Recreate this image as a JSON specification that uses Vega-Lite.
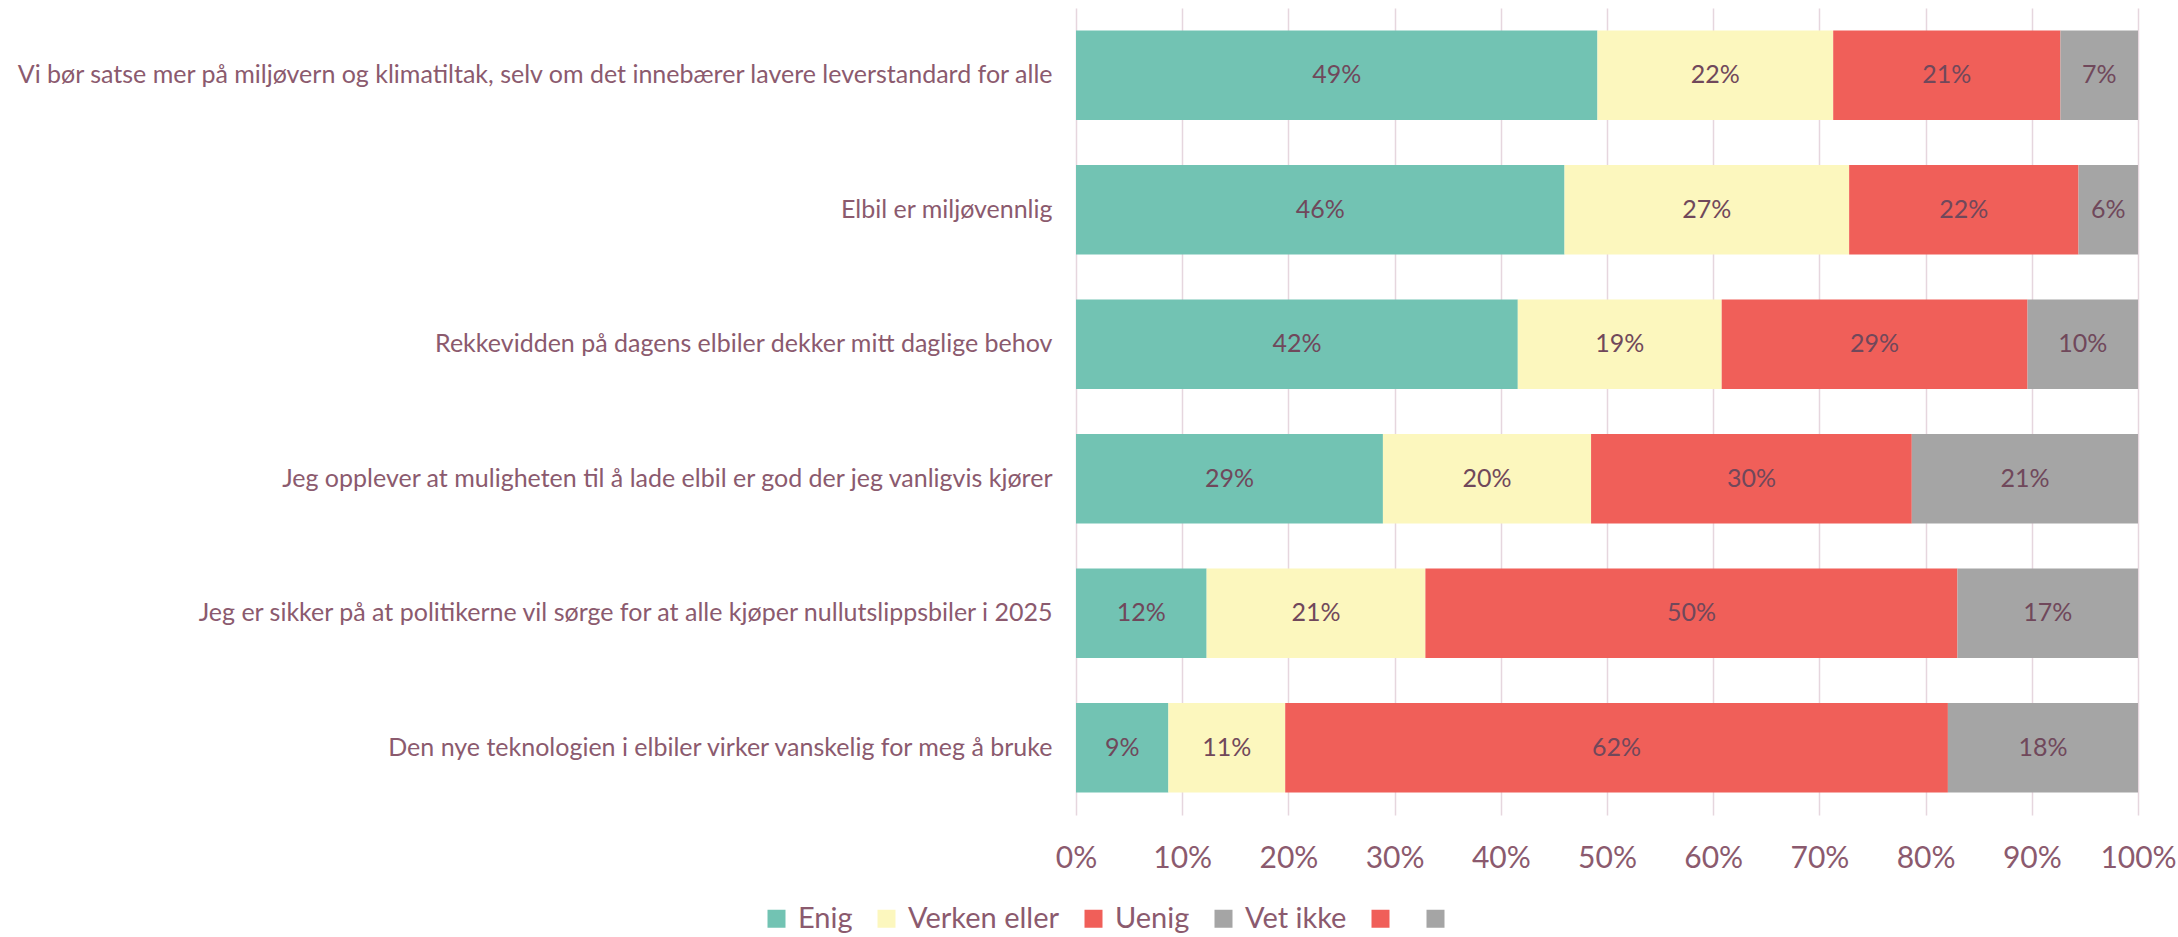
{
  "$schema": "https://vega.github.io/schema/vega-lite/v6.json",
  "width": 1062,
  "height": 807,
  "autosize": {"type": "none"},
  "padding": {"left": 1076, "top": 8, "right": 40, "bottom": 122},
  "background": "white",
  "config": {"view": {"stroke": null}, "font": "Lato"},
  "data": {
    "values": [
      {"q": "Vi bør satse mer på miljøvern og klimatiltak, selv om det innebærer lavere leverstandard for alle", "c": "Enig", "k": 1, "v": 0.491},
      {"q": "Vi bør satse mer på miljøvern og klimatiltak, selv om det innebærer lavere leverstandard for alle", "c": "Verken eller", "k": 2, "v": 0.222},
      {"q": "Vi bør satse mer på miljøvern og klimatiltak, selv om det innebærer lavere leverstandard for alle", "c": "Uenig", "k": 3, "v": 0.214},
      {"q": "Vi bør satse mer på miljøvern og klimatiltak, selv om det innebærer lavere leverstandard for alle", "c": "Vet ikke", "k": 4, "v": 0.073},
      {"q": "Elbil er miljøvennlig", "c": "Enig", "k": 1, "v": 0.460},
      {"q": "Elbil er miljøvennlig", "c": "Verken eller", "k": 2, "v": 0.268},
      {"q": "Elbil er miljøvennlig", "c": "Uenig", "k": 3, "v": 0.216},
      {"q": "Elbil er miljøvennlig", "c": "Vet ikke", "k": 4, "v": 0.056},
      {"q": "Rekkevidden på dagens elbiler dekker mitt daglige behov", "c": "Enig", "k": 1, "v": 0.416},
      {"q": "Rekkevidden på dagens elbiler dekker mitt daglige behov", "c": "Verken eller", "k": 2, "v": 0.192},
      {"q": "Rekkevidden på dagens elbiler dekker mitt daglige behov", "c": "Uenig", "k": 3, "v": 0.288},
      {"q": "Rekkevidden på dagens elbiler dekker mitt daglige behov", "c": "Vet ikke", "k": 4, "v": 0.104},
      {"q": "Jeg opplever at muligheten til å lade elbil er god der jeg vanligvis kjører\u00a0", "c": "Enig", "k": 1, "v": 0.289},
      {"q": "Jeg opplever at muligheten til å lade elbil er god der jeg vanligvis kjører\u00a0", "c": "Verken eller", "k": 2, "v": 0.196},
      {"q": "Jeg opplever at muligheten til å lade elbil er god der jeg vanligvis kjører\u00a0", "c": "Uenig", "k": 3, "v": 0.302},
      {"q": "Jeg opplever at muligheten til å lade elbil er god der jeg vanligvis kjører\u00a0", "c": "Vet ikke", "k": 4, "v": 0.213},
      {"q": "Jeg er sikker på at politikerne vil sørge for at alle kjøper nullutslippsbiler i 2025", "c": "Enig", "k": 1, "v": 0.123},
      {"q": "Jeg er sikker på at politikerne vil sørge for at alle kjøper nullutslippsbiler i 2025", "c": "Verken eller", "k": 2, "v": 0.206},
      {"q": "Jeg er sikker på at politikerne vil sørge for at alle kjøper nullutslippsbiler i 2025", "c": "Uenig", "k": 3, "v": 0.501},
      {"q": "Jeg er sikker på at politikerne vil sørge for at alle kjøper nullutslippsbiler i 2025", "c": "Vet ikke", "k": 4, "v": 0.170},
      {"q": "Den nye teknologien i elbiler virker vanskelig for meg å bruke", "c": "Enig", "k": 1, "v": 0.087},
      {"q": "Den nye teknologien i elbiler virker vanskelig for meg å bruke", "c": "Verken eller", "k": 2, "v": 0.110},
      {"q": "Den nye teknologien i elbiler virker vanskelig for meg å bruke", "c": "Uenig", "k": 3, "v": 0.624},
      {"q": "Den nye teknologien i elbiler virker vanskelig for meg å bruke", "c": "Vet ikke", "k": 4, "v": 0.179}
    ]
  },
  "encoding": {
    "y": {
      "field": "q",
      "type": "nominal",
      "sort": null,
      "scale": {"paddingInner": 0.334, "paddingOuter": 0.167},
      "axis": {
        "title": null,
        "domain": false,
        "ticks": false,
        "labelFontSize": 25,
        "labelColor": "#8B5A6E",
        "labelPadding": 24,
        "labelLimit": 1100
      }
    }
  },
  "layer": [
    {
      "mark": {"type": "bar"},
      "encoding": {
        "x": {
          "field": "v",
          "type": "quantitative",
          "stack": "zero",
          "scale": {"domain": [0, 1], "nice": false},
          "axis": {
            "title": null,
            "values": [0, 0.1, 0.2, 0.3, 0.4, 0.5, 0.6, 0.7, 0.8, 0.9, 1],
            "format": ".0%",
            "grid": true,
            "gridColor": "#E6D6DE",
            "gridWidth": 1.5,
            "domain": false,
            "ticks": false,
            "labelFontSize": 30,
            "labelColor": "#8B5A6E",
            "labelPadding": 28,
            "labelFlush": false
          }
        },
        "color": {
          "field": "c",
          "type": "nominal",
          "scale": {
            "domain": ["Enig", "Verken eller", "Uenig", "Vet ikke", "e1", "e2"],
            "range": ["#72C3B3", "#FCF7BE", "#F05F59", "#A5A5A5", "#F05F59", "#A5A5A5"]
          },
          "legend": {
            "title": null,
            "orient": "none",
            "legendX": -314,
            "legendY": 896,
            "direction": "horizontal",
            "columns": 6,
            "symbolType": "square",
            "symbolSize": 324,
            "symbolStrokeWidth": 0,
            "labelFontSize": 29,
            "labelLimit": 400,
            "labelColor": "#8B5A6E",
            "labelOffset": 7,
            "columnPadding": 19,
            "labelExpr": "(datum.label == 'e1' || datum.label == 'e2') ? '' : datum.label"
          }
        },
        "order": {"field": "k", "type": "quantitative"}
      }
    },
    {
      "mark": {"type": "text", "fontSize": 25, "color": "#70485B"},
      "encoding": {
        "x": {"field": "v", "type": "quantitative", "stack": "zero", "bandPosition": 0.5},
        "detail": {"field": "c"},
        "order": {"field": "k", "type": "quantitative"},
        "text": {"field": "v", "type": "quantitative", "format": ".0%"}
      }
    }
  ]
}
